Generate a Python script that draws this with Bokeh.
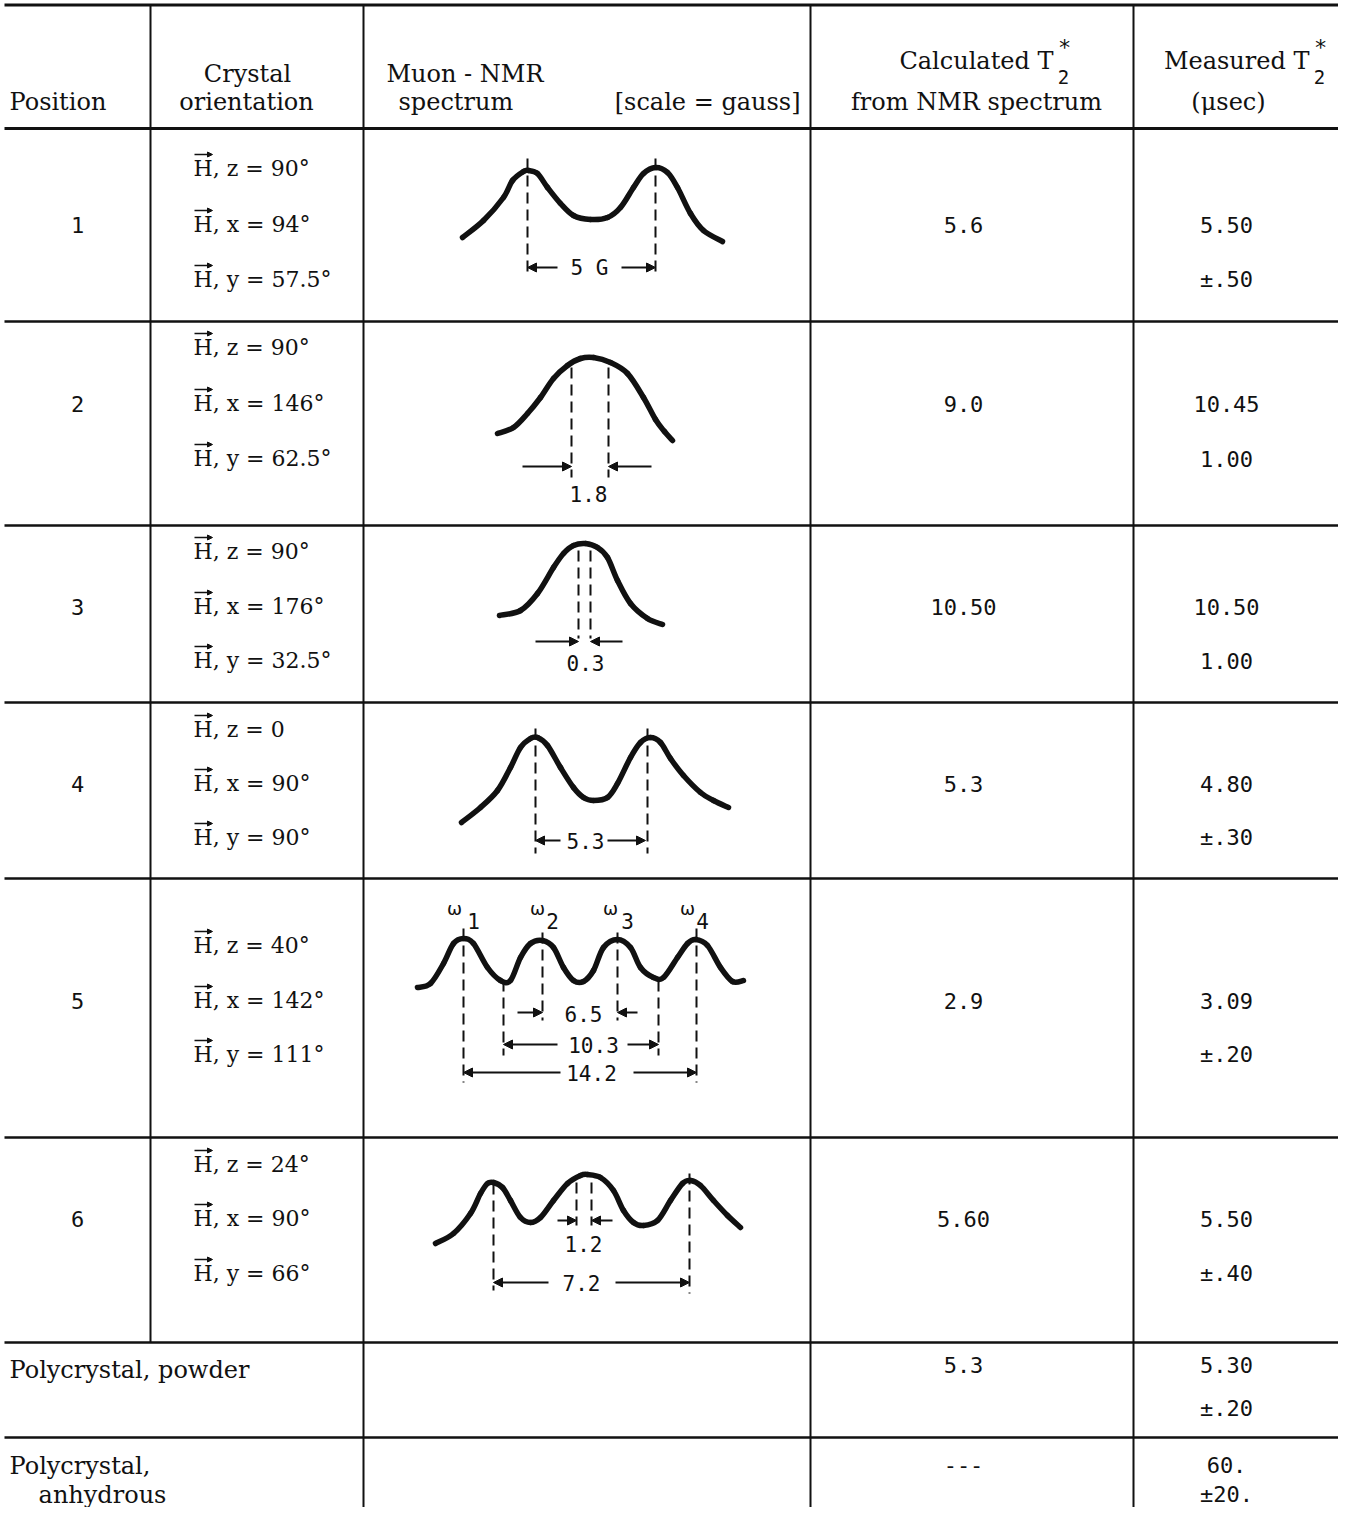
from bokeh.plotting import figure
from bokeh.models import ColumnDataSource, Arrow, NormalHead, Range1d
from bokeh.core.properties import value
from bokeh.embed import file_html
from bokeh.resources import INLINE

# ---------------- data ----------------
positions = ["1", "2", "3", "4", "5", "6"]
angle_z = ["90°", "90°", "90°", "0", "40°", "24°"]
angle_x = ["94°", "146°", "176°", "90°", "142°", "90°"]
angle_y = ["57.5°", "62.5°", "32.5°", "90°", "111°", "66°"]
calc_t2 = ["5.6", "9.0", "10.50", "5.3", "2.9", "5.60", "5.3", "---"]
meas_t2 = ["5.50", "10.45", "10.50", "4.80", "3.09", "5.50", "5.30", "60."]
meas_err = ["±.50", "1.00", "1.00", "±.30", "±.20", "±.40", "±.20", "±20."]
poly_rows = ["Polycrystal, powder", "Polycrystal,"]
poly_extra = "anhydrous"

# spectrum sketches, in local cell units (x from column edge, y from row top)
spec_x = [
    [99, 120, 140, 149, 160, 165, 174, 184, 197, 210, 227, 244, 257, 270, 280, 292, 304, 314, 327, 340, 359],
    [134, 150, 164, 177, 190, 204, 217, 230, 247, 264, 280, 292, 301, 309],
    [136, 157, 174, 190, 200, 210, 222, 234, 244, 254, 267, 284, 299],
    [98, 117, 134, 147, 157, 167, 174, 184, 197, 210, 220, 230, 244, 254, 267, 277, 287, 297, 307, 320, 337, 350, 365],
    [54, 67, 80, 90, 100, 110, 124, 137, 147, 157, 167, 179, 190, 200, 210, 220, 230, 240, 254, 267, 277, 290, 300,
     314, 324, 332, 344, 357, 369, 380],
    [72, 90, 107, 117, 124, 130, 139, 147, 157, 167, 177, 190, 204, 217, 224, 237, 250, 260, 270, 280, 294, 307, 319,
     327, 337, 350, 364, 377],
]
spec_y = [
    [109, 92, 69, 52, 43, 42, 45, 59, 75, 87, 91, 89, 79, 59, 45, 39, 44, 59, 85, 102, 113],
    [112, 106, 92, 76, 57, 44, 37, 36, 41, 52, 76, 98, 110, 119],
    [90, 85, 68, 42, 28, 20, 18, 22, 32, 55, 78, 93, 99],
    [120, 105, 88, 65, 45, 36, 35, 43, 65, 85, 95, 98, 95, 81, 55, 40, 35, 40, 56, 73, 90, 98, 105],
    [109, 105, 85, 65, 60, 65, 89, 102, 102, 79, 65, 62, 69, 89, 102, 103, 92, 69, 61, 69, 89, 99, 99, 79, 65, 61,
     67, 89, 103, 102],
    [106, 96, 76, 56, 46, 45, 50, 63, 80, 85, 80, 63, 46, 38, 37, 40, 53, 73, 85, 88, 83, 63, 46, 43, 48, 63, 78, 90],
]
# dimension labels (gauss)
dim_text = [["5 G"], ["1.8"], ["0.3"], ["5.3"], ["6.5", "10.3", "14.2"], ["1.2", "7.2"]]
omega_labels = ["ω", "ω", "ω", "ω"]
omega_subs = ["1", "2", "3", "4"]

# ---------------- layout (pixels of the sheet) ----------------
row_top = [128, 321, 525, 702, 878, 1137]
orient_y = [[168, 224, 279], [347, 403, 458], [551, 606, 660], [729, 783, 837], [945, 1000, 1054], [1164, 1218, 1273]]
poly_top = [1342, 1437]
X_POS, X_ORI, X_SPEC, X_CALC, X_MEAS = 77, 193, 363, 963, 1226
dash_lines = [
    [(164, 30, 149), (292, 30, 149)],
    [(208, 46, 156), (245, 46, 156)],
    [(215, 25, 113), (227, 25, 113)],
    [(172, 26, 151), (284, 26, 151)],
    [(100, 50, 204), (179, 54, 142), (254, 54, 142), (333, 50, 204), (140, 102, 177), (295, 102, 177)],
    [(130, 46, 153), (326, 36, 156), (213, 45, 88), (228, 45, 88)],
]
dim_arrows = [
    [(194, 164, 139), (258, 292, 139)],
    [(159, 208, 145), (288, 245, 145)],
    [(172, 215, 116), (259, 227, 116)],
    [(197, 172, 138), (244, 282, 138)],
    [(154, 179, 134), (274, 254, 134), (194, 140, 166), (264, 295, 166), (197, 100, 194), (270, 333, 194)],
    [(194, 213, 83), (249, 228, 83), (185, 130, 145), (252, 326, 145)],
]
dim_pos = [[(226, 139)], [(225, 172)], [(222, 137)], [(222, 138)],
           [(220, 135), (230, 166), (228, 194)], [(220, 106), (218, 145)]]
omega_pos = [(91, 30), (174, 30), (247, 30), (324, 30)]
omega_sub_pos = [(110, 42), (189, 42), (264, 42), (339, 42)]

SERIF = value("DejaVu Serif")
MONO = value("DejaVu Sans Mono")
SANS = value("DejaVu Sans")
INK = "#111111"

W, H = 1338, 1507
p = figure(width=W, height=H, x_range=Range1d(0, W), y_range=Range1d(H, 0),
           output_backend="svg", toolbar_location=None, x_axis_type=None, y_axis_type=None,
           min_border=0, background_fill_color="white", border_fill_color="white")
p.grid.visible = False
p.outline_line_color = None


def txt(xs, ys, texts, font, size, align="center", baseline="middle"):
    p.text(x=xs, y=ys, text=texts, text_font=font, text_font_size=value(size),
           text_align=align, text_baseline=baseline, text_color=INK)


def smooth(xs, ys, width):
    """Draw a smooth curve through the read points with Bokeh's bezier glyph (Catmull-Rom handles)."""
    n = len(xs)
    x0, y0, x1, y1, cx0, cy0, cx1, cy1 = [], [], [], [], [], [], [], []
    for i in range(n - 1):
        a = max(i - 1, 0)
        d = min(i + 2, n - 1)
        x0.append(xs[i]); y0.append(ys[i]); x1.append(xs[i + 1]); y1.append(ys[i + 1])
        cx0.append(xs[i] + (xs[i + 1] - xs[a]) / 6.0)
        cy0.append(ys[i] + (ys[i + 1] - ys[a]) / 6.0)
        cx1.append(xs[i + 1] - (xs[d] - xs[i]) / 6.0)
        cy1.append(ys[i + 1] - (ys[d] - ys[i]) / 6.0)
    p.bezier(x0=x0, y0=y0, x1=x1, y1=y1, cx0=cx0, cy0=cy0, cx1=cx1, cy1=cy1,
             line_color=INK, line_width=width, line_cap="round")


def arrows(xs, xe, ys, size=9, lw=2.0):
    src = ColumnDataSource(dict(xs=xs, xe=xe, ys=ys))
    p.add_layout(Arrow(x_start="xs", y_start="ys", x_end="xe", y_end="ys", source=src,
                       line_color=INK, line_width=lw,
                       end=NormalHead(size=size, line_color=INK, fill_color=INK, line_width=1)))


# ---------------- rules ----------------
h_y = [4.5, 128] + row_top[1:] + poly_top
h_w = [3, 3] + [2.5] * (len(h_y) - 2)
for yy, ww in zip(h_y, h_w):
    p.line(x=[4, 1338], y=[yy, yy], line_color=INK, line_width=ww)
p.segment(x0=[150, 363, 810, 1133], y0=[4, 4, 4, 4], x1=[150, 363, 810, 1133], y1=[1342, 1507, 1507, 1507],
          line_color=INK, line_width=2)

# ---------------- header ----------------
txt([9], [101], ["Position"], SERIF, "24px", "left")
txt([247, 246], [73, 101], ["Crystal", "orientation"], SERIF, "24px")
txt([386, 398], [73, 101], ["Muon - NMR", "spectrum"], SERIF, "24px", "left")
txt([800], [101], ["[scale = gauss]"], SERIF, "24px", "right")
txt([1053, 1309], [60, 60], ["Calculated T", "Measured T"], SERIF, "24px", "right")
txt([1063, 1319], [76, 76], ["2", "2"], MONO, "19px")
txt([1064, 1320], [47, 47], ["*", "*"], MONO, "22px")
txt([976, 1228], [101, 101], ["from NMR spectrum", "(μsec)"], SERIF, "24px")

# ---------------- body rows ----------------
mid = [r[1] for r in orient_y]
low = [r[2] for r in orient_y]
txt([X_POS] * 6, mid, positions, MONO, "22px")
ori_x, ori_y, ori_t = [], [], []
for i in range(6):
    for j, (ax, ang) in enumerate(zip(["z", "x", "y"], [angle_z[i], angle_x[i], angle_y[i]])):
        ori_x.append(X_ORI)
        ori_y.append(orient_y[i][j])
        ori_t.append("H, " + ax + " = " + ang)
txt(ori_x, ori_y, ori_t, SERIF, "22px", "left")
# vector arrows over the H
arrows([X_ORI + 1] * len(ori_y), [X_ORI + 19] * len(ori_y), [v - 14 for v in ori_y], size=5, lw=1.5)

val_y = mid + [1364, 1464]
err_y = low + [1408, 1494]
txt([X_CALC] * 8, val_y, calc_t2, MONO, "22px")
txt([X_MEAS] * 8, val_y, meas_t2, MONO, "22px")
txt([X_MEAS] * 8, err_y, meas_err, MONO, "22px")
txt([9, 9], [1369, 1465], poly_rows, SERIF, "24px", "left")
txt([102], [1494], [poly_extra], SERIF, "24px")

# ---------------- spectra ----------------
for i in range(6):
    top = row_top[i]
    smooth([X_SPEC + v for v in spec_x[i]], [top + v for v in spec_y[i]], 5.5)
    dl = dash_lines[i]
    p.segment(x0=[X_SPEC + d[0] for d in dl], y0=[top + d[1] for d in dl],
              x1=[X_SPEC + d[0] for d in dl], y1=[top + d[2] for d in dl],
              line_color=INK, line_width=2, line_dash="11 6")
    da = dim_arrows[i]
    arrows([X_SPEC + a[0] for a in da], [X_SPEC + a[1] for a in da], [top + a[2] for a in da])
    txt([X_SPEC + q[0] for q in dim_pos[i]], [top + q[1] for q in dim_pos[i]], dim_text[i], MONO, "21px")

t5 = row_top[4]
txt([X_SPEC + q[0] for q in omega_pos], [t5 + q[1] for q in omega_pos], omega_labels, SANS, "18px")
txt([X_SPEC + q[0] for q in omega_sub_pos], [t5 + q[1] for q in omega_sub_pos], omega_subs, MONO, "21px")

open("out.html", "w").write(file_html(p, INLINE))
